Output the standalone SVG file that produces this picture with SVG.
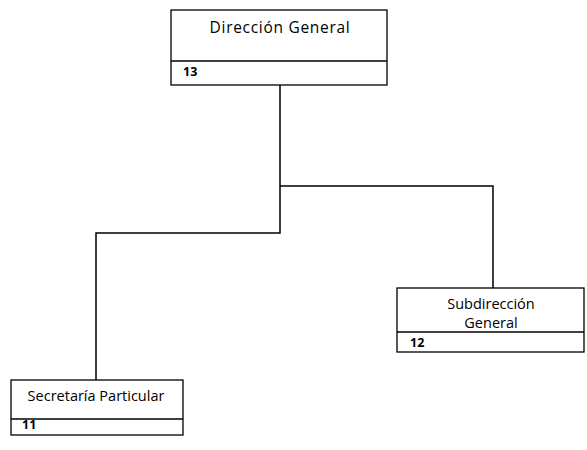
<svg xmlns="http://www.w3.org/2000/svg" width="587" height="450" viewBox="0 0 587 450">
<style>
.box{fill:#fff;stroke:#000;stroke-width:1.3}
.div{stroke:#000;stroke-width:1.6}
.t{font-family:"Open Sans","Liberation Sans",sans-serif;font-size:14.5px;fill:#000}
.h{font-family:"Open Sans","Liberation Sans",sans-serif;font-size:15.5px;letter-spacing:0.7px;fill:#000}
.n{font-family:"Open Sans","Liberation Sans",sans-serif;font-size:12.5px;fill:#000;font-weight:bold}
.c{fill:none;stroke:#000;stroke-width:1.5}
</style>
<rect width="587" height="450" fill="#fff"/>
<g id="connectors">
<polyline class="c" points="280,85 280,233 96,233 96,380"/>
<polyline class="c" points="280,186 493,186 493,288"/>
</g>
<g id="direccion-general">
<rect class="box" x="171" y="10" width="216" height="75"/>
<line class="div" x1="171" y1="61" x2="387" y2="61"/>
<text class="h" x="280" y="33" text-anchor="middle">Dirección General</text>
<text class="n" x="183" y="76">13</text>
</g>
<g id="subdireccion-general">
<rect class="box" x="397" y="288" width="187" height="64"/>
<line class="div" x1="397" y1="332" x2="584" y2="332"/>
<text class="t" x="491" y="309" text-anchor="middle">Subdirección</text>
<text class="t" x="491" y="328" text-anchor="middle">General</text>
<text class="n" x="410" y="347">12</text>
</g>
<g id="secretaria-particular">
<rect class="box" x="11" y="380" width="172" height="55"/>
<line class="div" x1="11" y1="419" x2="183" y2="419"/>
<text class="t" x="96" y="401" text-anchor="middle">Secretaría Particular</text>
<text class="n" x="22" y="429">11</text>
</g>
</svg>
